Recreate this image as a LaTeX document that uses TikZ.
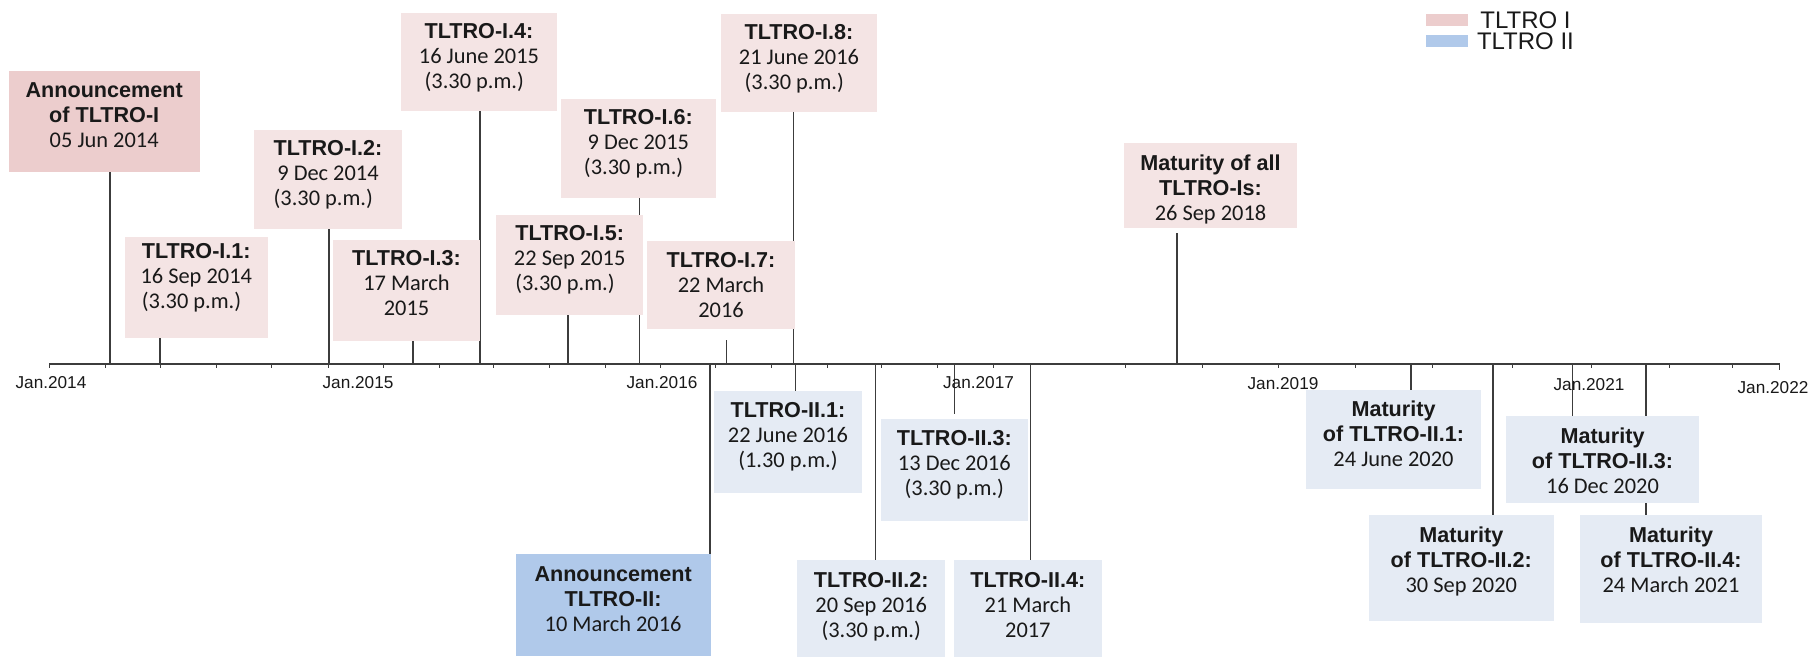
\documentclass[tikz,border=0pt]{standalone}
\usepackage{fontspec}
\setmainfont{Carlito}
\newfontfamily\arialf{Liberation Sans}
\usetikzlibrary{fit}
\definecolor{pinkD}{RGB}{236,205,205}
\definecolor{pinkL}{RGB}{244,228,228}
\definecolor{blueD}{RGB}{176,201,234}
\definecolor{blueL}{RGB}{229,235,244}
\definecolor{lineC}{RGB}{60,60,60}
\definecolor{txtC}{RGB}{25,25,25}
\newlength\ttw
\newcommand\tb[1]{{\arialf\bfseries\fontsize{10.8}{12.5}\selectfont #1}}
\newcommand\ithree[3]{\setbox0=\hbox{\tb{#1}}\global\ttw=\wd0 \tb{#1}\\#2\\\makebox[\ttw][l]{#3}}
\pgfdeclarelayer{bg}
\pgfsetlayers{bg,main}
\begin{document}
\begin{tikzpicture}[x=0.5pt,y=-0.5pt,
  boxbase/.style={draw=none,inner sep=0pt,outer sep=0pt,rectangle},
  boxI/.style={boxbase,fill=pinkL},
  boxIA/.style={boxbase,fill=pinkD},
  boxII/.style={boxbase,fill=blueL},
  boxIIA/.style={boxbase,fill=blueD},
  txt/.style={align=center,inner sep=0pt,text=txtC,anchor=north,font=\fontsize{11.2}{12.5}\selectfont},
  conn/.style={draw=lineC,line width=0.6pt},
  axisline/.style={draw=lineC,line width=1pt},
  tickline/.style={draw=lineC,line width=0.5pt},
  axlabel/.style={anchor=base,inner sep=0pt,text=txtC,font=\arialf\fontsize{8.6}{10}\selectfont},
  legtxt/.style={anchor=base west,inner sep=0pt,text=txtC,font=\arialf\fontsize{12}{13}\selectfont}
]
\useasboundingbox (0,0) rectangle (1810,657);

% axis
\coordinate (ax0) at (49.4,364);
\coordinate (ax1) at (1779.5,364);
\draw[axisline] (ax0) -- (ax1);
\foreach \x in {49.4,105.6,160,216.5,271.5,328,383,439.5,493.5,549.5,605.5,660.4,715.6,771,827,881.8,937.7,993.4,1125,1202,1278.5,1355,1432,1512,1591,1669.5,1732}
  \draw[tickline] (\x,364) -- (\x,368.5);
\draw[tickline] (ax1) -- ++(0,6);

% axis labels
\node[axlabel] (j14) at (51,389) {Jan.2014};
\node[axlabel] (j15) at (358,389) {Jan.2015};
\node[axlabel] (j16) at (662,389) {Jan.2016};
\node[axlabel] (j17) at (978.5,389) {Jan.2017};
\node[axlabel] (j19) at (1283,390) {Jan.2019};
\node[axlabel] (j21) at (1589,391) {Jan.2021};
\node[axlabel] (j22) at (1773,394) {Jan.2022};

% upper boxes (TLTRO I)
\node[boxIA,fit={(8.7,71) (199.7,172)}] (A1) {};
\node[boxI,fit={(124.5,237) (268,338)}] (I1) {};
\node[boxI,fit={(254,130) (402,229)}] (I2) {};
\node[boxI,fit={(333,240) (480,341)}] (I3) {};
\node[boxI,fit={(401,13) (557,111)}] (I4) {};
\node[boxI,fit={(496,215) (643.4,315)}] (I5) {};
\node[boxI,fit={(561,99) (715.7,198)}] (I6) {};
\node[boxI,fit={(647,241) (795,329)}] (I7) {};
\node[boxI,fit={(721,14) (877,112)}] (I8) {};
\node[boxI,fit={(1124,143) (1297,228)}] (MA) {};

% lower boxes (TLTRO II)
\node[boxIIA,fit={(515.5,554) (710.7,655.7)}] (AII) {};
\node[boxII,fit={(714,391) (862,492.7)}] (II1) {};
\node[boxII,fit={(797.4,560) (945,656.7)}] (II2) {};
\node[boxII,fit={(881,419) (1027.6,520.7)}] (II3) {};
\node[boxII,fit={(954,560) (1101.7,656.7)}] (II4) {};
\node[boxII,fit={(1306,390) (1481,489)}] (M1) {};
\node[boxII,fit={(1369,515) (1553.6,620.7)}] (M2) {};
\node[boxII,fit={(1506,416) (1699,502.7)}] (M3) {};
\node[boxII,fit={(1580,515) (1762,622.7)}] (M4) {};

% connectors
\coordinate (pA1) at (110,364);
\coordinate (pI1) at (160,364);
\coordinate (pI2) at (329,364);
\coordinate (pI3) at (413,364);
\coordinate (pI4) at (480,364);
\coordinate (pI5) at (568,364);
\coordinate (pI6) at (639.4,364);
\coordinate (pI7) at (726.5,364);
\coordinate (pI7e) at (726.5,340);
\coordinate (pI8) at (793.5,364);
\coordinate (pMA) at (1177,364);
\coordinate (pMAe) at (1177,233);
\coordinate (pAII) at (710,364);
\coordinate (pII1) at (795.5,364);
\coordinate (pII2) at (875.3,364);
\coordinate (pII3) at (954.5,364);
\coordinate (pII3e) at (954.5,414);
\coordinate (pII4) at (1030.5,364);
\coordinate (pM1) at (1411,364);
\coordinate (pM2) at (1493,364);
\coordinate (pM3) at (1572.5,364);
\coordinate (pM4) at (1646,364);
\begin{pgfonlayer}{bg}
\draw[conn] (pA1) -- (pA1 |- A1.south);
\draw[conn] (pI1) -- (pI1 |- I1.south);
\draw[conn] (pI2) -- (pI2 |- I2.south);
\draw[conn] (pI3) -- (pI3 |- I3.south);
\draw[conn] (pI4) -- (pI4 |- I4.south);
\draw[conn] (pI5) -- (pI5 |- I5.south);
\draw[conn] (pI6) -- (pI6 |- I6.south);
\draw[conn] (pI7) -- (pI7e);
\draw[conn] (pI8) -- (pI8 |- I8.south);
\draw[conn] (pMA) -- (pMAe);
\draw[conn] (pAII) -- (pAII |- AII.north);
\draw[conn] (pII1) -- (pII1 |- II1.north);
\draw[conn] (pII2) -- (pII2 |- II2.north);
\draw[conn] (pII3) -- (pII3e);
\draw[conn] (pII4) -- (pII4 |- II4.north);
\draw[conn] (pM1) -- (pM1 |- M1.north);
\draw[conn] (pM2) -- (pM2 |- M2.north);
\draw[conn] (pM3) -- (pM3 |- M3.north);
\draw[conn] (pM4) -- (pM4 |- M4.north);
\end{pgfonlayer}

% texts
\node[txt] (A1t) at ([yshift=-5.8pt]A1.north) {\tb{Announcement}\\\tb{of TLTRO-I}\\05 Jun 2014};
\node[txt] (I1t) at ([yshift=-3pt]I1.north) {\ithree{TLTRO-I.1:}{16 Sep 2014}{(3.30 p.m.)}};
\node[txt] (I2t) at ([yshift=-5pt]I2.north) {\ithree{TLTRO-I.2:}{9 Dec 2014}{(3.30 p.m.)}};
\node[txt] (I3t) at ([yshift=-5pt]I3.north) {\tb{TLTRO-I.3:}\\17 March\\2015};
\node[txt] (I4t) at ([yshift=-5pt]I4.north) {\ithree{TLTRO-I.4:}{16 June 2015}{(3.30 p.m.)}};
\node[txt] (I5t) at ([yshift=-5pt]I5.north) {\ithree{TLTRO-I.5:}{22 Sep 2015}{(3.30 p.m.)}};
\node[txt] (I6t) at ([yshift=-5pt]I6.north) {\ithree{TLTRO-I.6:}{9 Dec 2015}{(3.30 p.m.)}};
\node[txt] (I7t) at ([yshift=-5.5pt]I7.north) {\tb{TLTRO-I.7:}\\22 March\\2016};
\node[txt] (I8t) at ([yshift=-5pt]I8.north) {\ithree{TLTRO-I.8:}{21 June 2016}{(3.30 p.m.)}};
\node[txt] (MAt) at ([yshift=-5.5pt]MA.north) {\tb{Maturity of all}\\\tb{TLTRO-Is:}\\26 Sep 2018};

\node[txt] (AIIt) at ([yshift=-6pt]AII.north) {\tb{Announcement}\\\tb{TLTRO-II:}\\10 March 2016};
\node[txt] (II1t) at ([yshift=-5.5pt]II1.north) {\tb{TLTRO-II.1:}\\22 June 2016\\(1.30 p.m.)};
\node[txt] (II2t) at ([yshift=-5.8pt]II2.north) {\tb{TLTRO-II.2:}\\20 Sep 2016\\(3.30 p.m.)};
\node[txt] (II3t) at ([yshift=-5.5pt]II3.north) {\tb{TLTRO-II.3:}\\13 Dec 2016\\(3.30 p.m.)};
\node[txt] (II4t) at ([yshift=-5.8pt]II4.north) {\tb{TLTRO-II.4:}\\21 March\\2017};
\node[txt] (M1t) at ([yshift=-5.3pt]M1.north) {\tb{Maturity}\\\tb{of TLTRO-II.1:}\\24 June 2020};
\node[txt] (M2t) at ([yshift=-5.8pt]M2.north) {\tb{Maturity}\\\tb{of TLTRO-II.2:}\\30 Sep 2020};
\node[txt] (M3t) at ([yshift=-5.5pt]M3.north) {\tb{Maturity}\\\tb{of TLTRO-II.3:}\\16 Dec 2020};
\node[txt] (M4t) at ([yshift=-5.8pt]M4.north) {\tb{Maturity}\\\tb{of TLTRO-II.4:}\\24 March 2021};

% legend
\node[boxbase,fill=pinkD,fit={(1425.7,14) (1468.3,25.7)}] (lgI) {};
\node[boxbase,fill=blueD,fit={(1425.7,35) (1468.3,46.7)}] (lgII) {};
\node[legtxt] (lgIt) at (1480,29) {TLTRO I};
\node[legtxt] (lgIIt) at (1476.6,50) {TLTRO II};
\end{tikzpicture}
\end{document}
